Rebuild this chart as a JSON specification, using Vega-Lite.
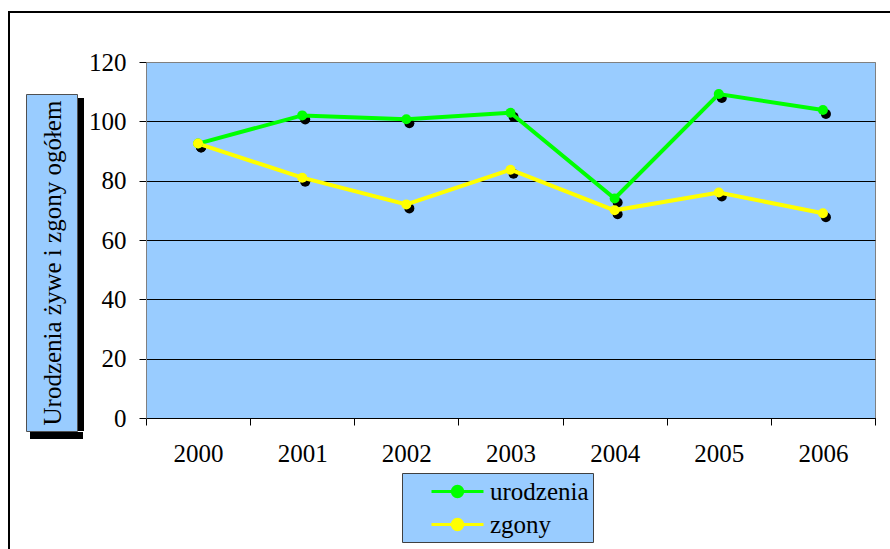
{
  "$schema": "https://vega.github.io/schema/vega-lite/v6.json",
  "background": "white",
  "padding": {"left": 8, "top": 11, "right": 0, "bottom": 0},
  "bounds": "flush",
  "spacing": 0,
  "config": {
    "font": "Liberation Serif",
    "axis": {"labelFont": "Liberation Serif", "labelColor": "black"}
  },
  "hconcat": [
    {
      "width": 2, "height": 545,
      "data": {"values": []}, "mark": "point", "encoding": {},
      "view": {"fill": "black", "stroke": null}
    },
    {
      "bounds": "flush",
      "spacing": 49,
      "vconcat": [
        {
          "width": 880, "height": 2,
          "data": {"values": []}, "mark": "point", "encoding": {},
          "view": {"fill": "black", "stroke": null}
        },
        {
          "bounds": "flush",
          "spacing": 136,
          "hconcat": [
            {
              "spacing": 0,
              "hconcat": [
                {
                  "width": 15, "height": 10,
                  "data": {"values": []}, "mark": "point", "encoding": {},
                  "view": {"stroke": null}
                },
                {
                  "spacing": 0,
                  "vconcat": [
                    {
                      "width": 51, "height": 31,
                      "data": {"values": []}, "mark": "point", "encoding": {},
                      "view": {"stroke": null}
                    },
                    {
                      "spacing": 0,
                      "hconcat": [
                        {
                          "width": 51, "height": 337,
                          "data": {"values": []}, "mark": "point", "encoding": {},
                          "view": {"fill": "#99CCFF", "stroke": "#505050", "strokeWidth": 1}
                        },
                        {
                          "spacing": 0,
                          "vconcat": [
                            {
                              "width": 6, "height": 4,
                              "data": {"values": []}, "mark": "point", "encoding": {},
                              "view": {"stroke": null}
                            },
                            {
                              "width": 6, "height": 333,
                              "data": {"values": []}, "mark": "point", "encoding": {},
                              "view": {"fill": "black", "stroke": null}
                            }
                          ]
                        }
                      ]
                    },
                    {
                      "spacing": 0,
                      "hconcat": [
                        {
                          "width": 4, "height": 7,
                          "data": {"values": []}, "mark": "point", "encoding": {},
                          "view": {"stroke": null}
                        },
                        {
                          "width": 53, "height": 7,
                          "data": {"values": []}, "mark": "point", "encoding": {},
                          "view": {"fill": "black", "stroke": null}
                        }
                      ]
                    }
                  ]
                }
              ]
            },
            {
              "width": 729,
              "height": 356,
              "view": {"fill": "#99CCFF", "stroke": "#808080", "strokeWidth": 1},
              "data": {
                "values": [
                  {"year": "2000", "series": "urodzenia", "value": 92.5},
                  {"year": "2001", "series": "urodzenia", "value": 102},
                  {"year": "2002", "series": "urodzenia", "value": 100.7},
                  {"year": "2003", "series": "urodzenia", "value": 102.9},
                  {"year": "2004", "series": "urodzenia", "value": 74},
                  {"year": "2005", "series": "urodzenia", "value": 109.2},
                  {"year": "2006", "series": "urodzenia", "value": 103.8},
                  {"year": "2000", "series": "zgony", "value": 92.5},
                  {"year": "2001", "series": "zgony", "value": 81},
                  {"year": "2002", "series": "zgony", "value": 72},
                  {"year": "2003", "series": "zgony", "value": 83.7},
                  {"year": "2004", "series": "zgony", "value": 70},
                  {"year": "2005", "series": "zgony", "value": 76},
                  {"year": "2006", "series": "zgony", "value": 69}
                ]
              },
              "encoding": {
                "x": {
                  "field": "year", "type": "ordinal",
                  "scale": {"paddingInner": 0, "paddingOuter": 0},
                  "axis": {
                    "title": null, "labelAngle": 0, "tickBand": "extent",
                    "labelFontSize": 25, "labelPadding": 16, "tickSize": 7,
                    "tickColor": "black", "domainColor": "black", "grid": false
                  }
                },
                "y": {
                  "field": "value", "type": "quantitative",
                  "scale": {"domain": [0, 120], "nice": false},
                  "axis": {
                    "title": "Urodzenia żywe i zgony ogółem",
                    "titleFont": "Liberation Serif", "titleFontSize": 25, "titleFontWeight": "normal",
                    "titleColor": "black",
                    "titleAngle": 270, "titleAlign": "left", "titleBaseline": "alphabetic",
                    "titleX": -86, "titleY": 363,
                    "values": [0, 20, 40, 60, 80, 100, 120],
                    "labelFontSize": 25, "labelPadding": 13, "tickSize": 7,
                    "tickColor": "black", "domainColor": "#808080",
                    "grid": true,
                    "gridColor": {"condition": {"test": "datum.value === 120", "value": "#808080"}, "value": "black"},
                    "gridOpacity": 1, "gridWidth": 1
                  }
                }
              },
              "layer": [
                {
                  "mark": {"type": "point", "filled": true, "size": 100, "color": "black", "opacity": 1, "xOffset": 3, "yOffset": 4},
                  "encoding": {"detail": {"field": "series"}}
                },
                {
                  "mark": {"type": "line", "strokeWidth": 4},
                  "encoding": {
                    "color": {
                      "field": "series", "type": "nominal",
                      "scale": {"domain": ["urodzenia", "zgony"], "range": ["#00FF00", "#FFFF00"]},
                      "legend": {
                        "title": null, "orient": "none", "legendX": 394, "legendY": 462,
                        "fillColor": "#99CCFF", "strokeColor": "#404040",
                        "padding": 4, "labelFont": "Liberation Serif", "labelFontSize": 25,
                        "labelColor": "black", "labelOffset": 18, "rowPadding": 5,
                        "symbolOffset": 37,
                        "symbolType": "M-2,0L2,0M-0.4,0A0.4,0.4,0,1,1,0.4,0A0.4,0.4,0,1,1,-0.4,0Z",
                        "symbolSize": 676, "symbolStrokeWidth": 3,
                        "encode": {
                          "symbols": {
                            "update": {
                              "fill": {"scale": "color", "field": "value"},
                              "stroke": {"scale": "color", "field": "value"},
                              "opacity": {"value": 1}
                            }
                          },
                          "labels": {
                            "update": {
                              "text": {"signal": "datum.label + '\u00a0\u00a0\u00a0'"}
                            }
                          }
                        }
                      }
                    }
                  }
                },
                {
                  "mark": {"type": "point", "filled": true, "size": 100, "opacity": 1},
                  "encoding": {"color": {"field": "series", "type": "nominal"}}
                }
              ]
            }
          ]
        }
      ]
    }
  ]
}
